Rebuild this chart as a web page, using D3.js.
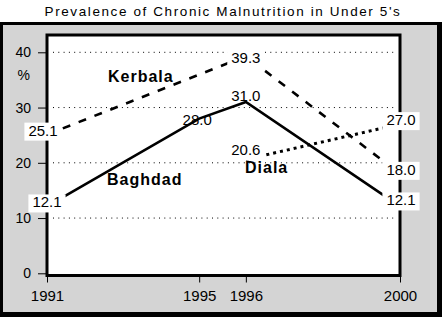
<!DOCTYPE html>
<html>
<head>
<meta charset="utf-8">
<script src="https://cdn.jsdelivr.net/npm/d3@7"></script>
<style>
  body { margin: 0; background: #fff; }
  text { font-family: "Liberation Sans", Arial, sans-serif; fill: #000; }
</style>
</head>
<body>
<div id="chart"></div>
<script>
var chart_title = "Prevalence of Chronic Malnutrition in Under 5's";
var years = [1991, 1995, 1996, 2000];
// where each survey sits on the time axis
var year_pos = [1991, 1994.88, 1996.07, 2000];
var baghdad = [12.1, 28.0, 31.0, 12.1];
var kerbala = [25.1, null, 39.3, 18.0];
var diala = [null, null, 20.6, 27.0];
var y_ticks = [0, 10, 20, 30, 40];
var series_names = ["Baghdad", "Kerbala", "Diala"];

// label placement, [dx, dy] from the point to text centre / baseline
var label_offsets = {
    "Baghdad": [[0, 1], [-2, 6], [0, -1], [1, -1]],
    "Kerbala": [[-4, 1], null, [0, 7], [1, 1]],
    "Diala": [null, null, [0, -4], [1, 1]]
};
var label_boxed = {
    "Baghdad": [true, false, false, true],
    "Kerbala": [true, false, true, true],
    "Diala": [false, false, true, true]
};
var series_style = {
    "Baghdad": {dash: null, width: 2.6},
    "Kerbala": {dash: "8,9", width: 2.6},
    "Diala": {dash: "3,4", width: 3}
};
var name_pos = {"Baghdad": [107, 185], "Kerbala": [108, 82], "Diala": [245, 173]};

var width = 442, height = 317;
var plot = {left: 47, right: 400, top: 35, bottom: 275.5};

var svg = d3.select("#chart").append("svg")
    .attr("width", width)
    .attr("height", height);

// title
svg.append("text")
    .attr("x", 223).attr("y", 16)
    .attr("text-anchor", "middle")
    .style("font-size", "13.5px")
    .style("letter-spacing", "1.6px")
    .text(chart_title);

// outer frame
svg.append("rect").attr("x", 0).attr("y", 22).attr("width", 442).attr("height", 295).attr("fill", "#000");
svg.append("rect").attr("x", 3).attr("y", 25).attr("width", 434).attr("height", 287).attr("fill", "#d4d4d4");

var x = d3.scaleLinear().domain([1991, 2000]).range([plot.left, plot.right]);
var y = d3.scaleLinear().domain([0, 40]).range([273.3, 52.3]);

svg.append("rect")
    .attr("x", plot.left).attr("y", plot.top)
    .attr("width", plot.right - plot.left)
    .attr("height", plot.bottom - plot.top)
    .attr("fill", "#fff")
    .attr("stroke", "#000")
    .attr("stroke-width", 3);

// gridlines
svg.append("g").selectAll("line")
    .data(y_ticks.filter(function(d) { return d > 0; }))
    .enter().append("line")
    .attr("x1", plot.left + 6).attr("x2", plot.right - 3)
    .attr("y1", function(d) { return y(d); })
    .attr("y2", function(d) { return y(d); })
    .attr("stroke", "#000")
    .attr("stroke-width", 1)
    .attr("stroke-dasharray", "1,4.3");

// y axis
var y_axis = d3.axisLeft(y).tickValues(y_ticks).tickSize(8).tickPadding(7).tickFormat(d3.format("d"));
var gy = svg.append("g")
    .attr("transform", "translate(" + (plot.left - 1) + ",0)")
    .call(y_axis);
gy.select(".domain").remove();
gy.selectAll("text").style("font-size", "14px").attr("fill", "#000");
gy.selectAll("line").attr("stroke", "#000");

svg.append("text")
    .attr("x", 30).attr("y", 80)
    .attr("text-anchor", "end")
    .style("font-size", "14px")
    .text("%");

// x axis, ticks at the survey positions, labelled with the year
var x_axis = d3.axisBottom(x).tickValues(year_pos).tickSize(6).tickPadding(8)
    .tickFormat(function(d, i) { return years[i]; });
var gx = svg.append("g")
    .attr("transform", "translate(0," + (plot.bottom + 1) + ")")
    .call(x_axis);
gx.select(".domain").remove();
gx.selectAll("text").style("font-size", "15px").attr("fill", "#000");
gx.selectAll("line").attr("stroke", "#000");

var series = [
    {name: "Baghdad", values: baghdad},
    {name: "Kerbala", values: kerbala},
    {name: "Diala", values: diala}
];

var line = d3.line()
    .x(function(d) { return x(d.pos); })
    .y(function(d) { return y(d.value); });

var points_of = function(s) {
    return years.map(function(yr, i) {
        return {year: yr, pos: year_pos[i], value: s.values[i], i: i, name: s.name};
    }).filter(function(d) { return d.value != null; });
};

series.forEach(function(s) {
    var st = series_style[s.name];
    svg.append("path")
        .datum(points_of(s))
        .attr("fill", "none")
        .attr("stroke", "#000")
        .attr("stroke-width", st.width)
        .attr("stroke-dasharray", st.dash)
        .attr("d", line);
});

// data labels
series.forEach(function(s) {
    points_of(s).forEach(function(d) {
        var off = label_offsets[s.name][d.i];
        var g = svg.append("g");
        var t = g.append("text")
            .attr("x", x(d.pos) + off[0])
            .attr("y", y(d.value) + off[1])
            .attr("text-anchor", "middle")
            .style("font-size", "15px")
            .text(d3.format(".1f")(d.value));
        if (label_boxed[s.name][d.i]) {
            var bb = t.node().getBBox();
            g.insert("rect", "text")
                .attr("x", bb.x - 4).attr("y", bb.y + 1)
                .attr("width", bb.width + 8).attr("height", bb.height + 1)
                .attr("fill", "#fff");
        }
    });
});

// series names
series_names.forEach(function(n) {
    svg.append("text")
        .attr("x", name_pos[n][0]).attr("y", name_pos[n][1])
        .style("font-size", "16px")
        .style("font-weight", "bold")
        .style("letter-spacing", "1px")
        .text(n);
});
</script>
</body>
</html>
